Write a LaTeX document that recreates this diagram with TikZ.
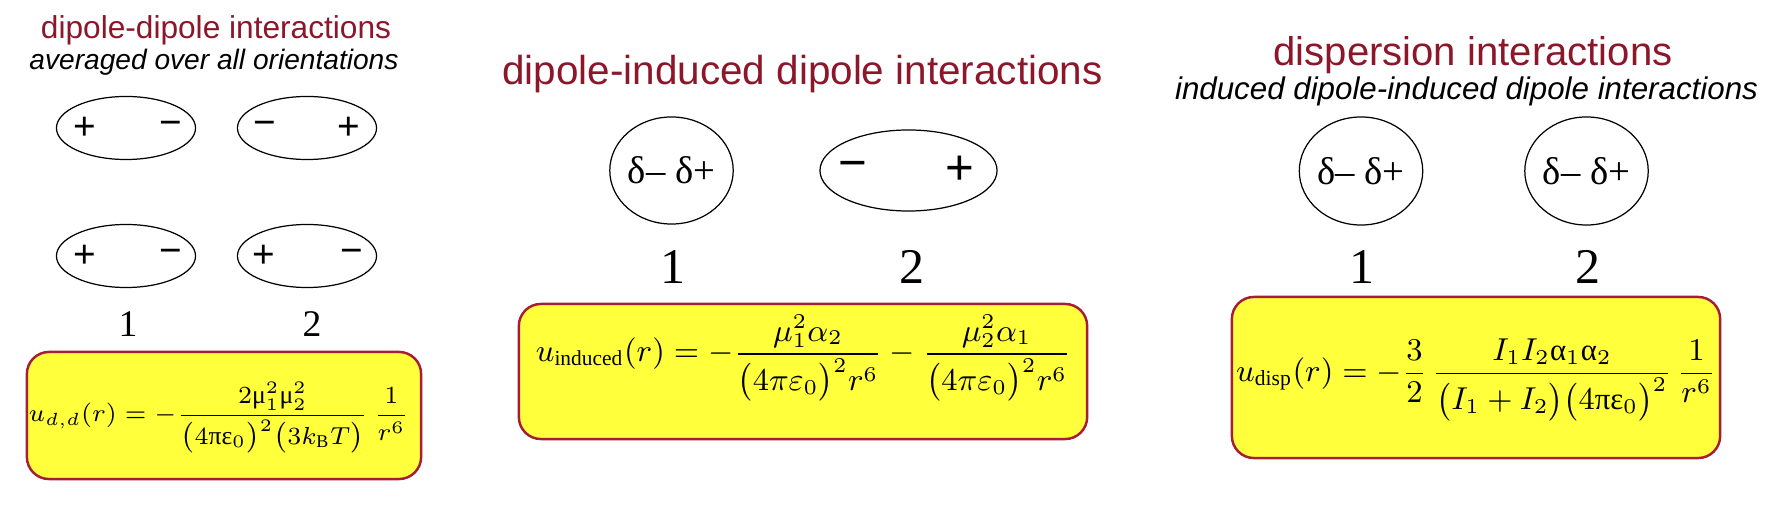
\documentclass[tikz,border=0pt]{standalone}
\usepackage{amsmath}
\usepackage{fontspec}
\setmainfont{Liberation Serif}
\newfontfamily\headfont{Liberation Sans}
\usetikzlibrary{shapes.geometric,positioning}

\definecolor{titlered}{RGB}{140,22,42}
\definecolor{boxred}{RGB}{165,30,55}
\definecolor{eqyellow}{RGB}{255,255,60}

% font size in pt
\newcommand{\fsz}[1]{\fontsize{#1}{#1}\selectfont}
% upright greek from the text font
\newcommand{\gmu}{\text{μ}}
\newcommand{\gpi}{\text{π}}
\newcommand{\geps}{\text{ε}}
\newcommand{\galpha}{\text{α}}

\tikzset{
  title/.style={text=titlered, inner sep=0pt},
  subtitle/.style={inner sep=0pt},
  molecule/.style={draw, ellipse, line width=0.35pt, inner sep=0pt},
  charge/.style={inner sep=0pt},
  number/.style={inner sep=0pt},
  eqbox/.style={draw=boxred, fill=eqyellow, line width=0.7pt, rounded corners=0.22cm},
}

\begin{document}
\begin{tikzpicture}[x=0.01cm, y=-0.01cm]
        \useasboundingbox (0,0) rectangle (1774,513);

        % Dipole-dipole
        \node[title, font=\headfont\fsz{9}] (ddtitle) at (216,30) {dipole-dipole interactions};
        \node[subtitle, font=\headfont\itshape\fsz{8}] (ddsub) at (214,62) {averaged over all orientations};

        \node[molecule, minimum width=1.39cm, minimum height=0.63cm] (dd1a) at (126,128) {};
        \node[molecule, minimum width=1.39cm, minimum height=0.63cm] (dd2a) at (307,128) {};
        \node[molecule, minimum width=1.39cm, minimum height=0.63cm] (dd1b) at (126,256) {};
        \node[molecule, minimum width=1.39cm, minimum height=0.63cm] (dd2b) at (307,256) {};

        \node[charge, font=\headfont\fsz{11}] (dd1ap) at (85,128) {+};
        \node[charge, font=\headfont\fsz{11}] (dd1am) at (171,128) {−};
        \node[charge, font=\headfont\fsz{11}] (dd2am) at (265,128) {−};
        \node[charge, font=\headfont\fsz{11}] (dd2ap) at (349,128) {+};
        \node[charge, font=\headfont\fsz{11}] (dd1bp) at (85,256) {+};
        \node[charge, font=\headfont\fsz{11}] (dd1bm) at (171,256) {−};
        \node[charge, font=\headfont\fsz{11}] (dd2bp) at (264,256) {+};
        \node[charge, font=\headfont\fsz{11}] (dd2bm) at (352,256) {−};

        \node[number, font=\fsz{10.7}] (dd1) at (128,324) {1};
        \node[number, font=\fsz{10.7}] (dd2) at (312,324) {2};

        \node[eqbox, minimum width=3.94cm, minimum height=1.27cm] (ddbox) at (224,415.5) {};
        \node[font=\fsz{7.3}, inner sep=0pt] (ddeq) at (219,417.5)
            {$u_{d,d}(r) = -\dfrac{2\gmu_1^2\gmu_2^2}{\bigl(4\gpi\geps_0\bigr)^2\bigl(3k_\mathrm{B}T\bigr)}\,\dfrac{1}{r^6}$};

        % Dipole-induced dipole
        \node[title, font=\headfont\fsz{11.5}] (dititle) at (802.5,74) {dipole-induced dipole interactions};

        \node[molecule, minimum width=1.09cm, minimum height=1.07cm, font=\fsz{11}] (di1) at (671.5,170.5) {δ– δ+};
        \node[molecule, minimum width=1.77cm, minimum height=0.81cm] (di2) at (908.5,170.5) {};
        \node[charge, font=\headfont\fsz{14}] (di2m) at (853,170.5) {−};
        \node[charge, font=\headfont\fsz{14}] (di2p) at (960,170.5) {+};

        \node[number, font=\fsz{14.2}] (din1) at (673,267) {1};
        \node[number, font=\fsz{14.2}] (din2) at (912,267) {2};

        \node[eqbox, minimum width=5.68cm, minimum height=1.35cm] (dibox) at (803,371.5) {};
        \node[font=\fsz{8.7}, inner sep=0pt] (dieq) at (803.5,358)
            {$u_\mathrm{induced}(r) = -\dfrac{\mu_1^2\alpha_2}{\bigl(4\pi\varepsilon_0\bigr)^2 r^6} - \dfrac{\mu_2^2\alpha_1}{\bigl(4\pi\varepsilon_0\bigr)^2 r^6}$};

        % Dispersion
        \node[title, font=\headfont\fsz{11.4}] (dstitle) at (1473,55) {dispersion interactions};
        \node[subtitle, font=\headfont\itshape\fsz{8.9}] (dssub) at (1466.5,91) {induced dipole-induced dipole interactions};

        \node[molecule, minimum width=1.08cm, minimum height=1.08cm, font=\fsz{11}] (ds1) at (1361,171) {δ– δ+};
        \node[molecule, minimum width=1.08cm, minimum height=1.08cm, font=\fsz{11}] (ds2) at (1586.5,171) {δ– δ+};

        \node[number, font=\fsz{14.2}] (dsn1) at (1362,267) {1};
        \node[number, font=\fsz{14.2}] (dsn2) at (1588,267) {2};

        \node[eqbox, minimum width=4.88cm, minimum height=1.61cm] (dsbox) at (1476,377.5) {};
        \node[font=\fsz{8.75}, inner sep=0pt] (dseq) at (1476,380)
            {$u_\mathrm{disp}(r) = -\dfrac{3}{2}\,\dfrac{I_1I_2\galpha_1\galpha_2}{\bigl(I_1+I_2\bigr)\bigl(4\gpi\geps_0\bigr)^2}\,\dfrac{1}{r^6}$};

\end{tikzpicture}
\end{document}
